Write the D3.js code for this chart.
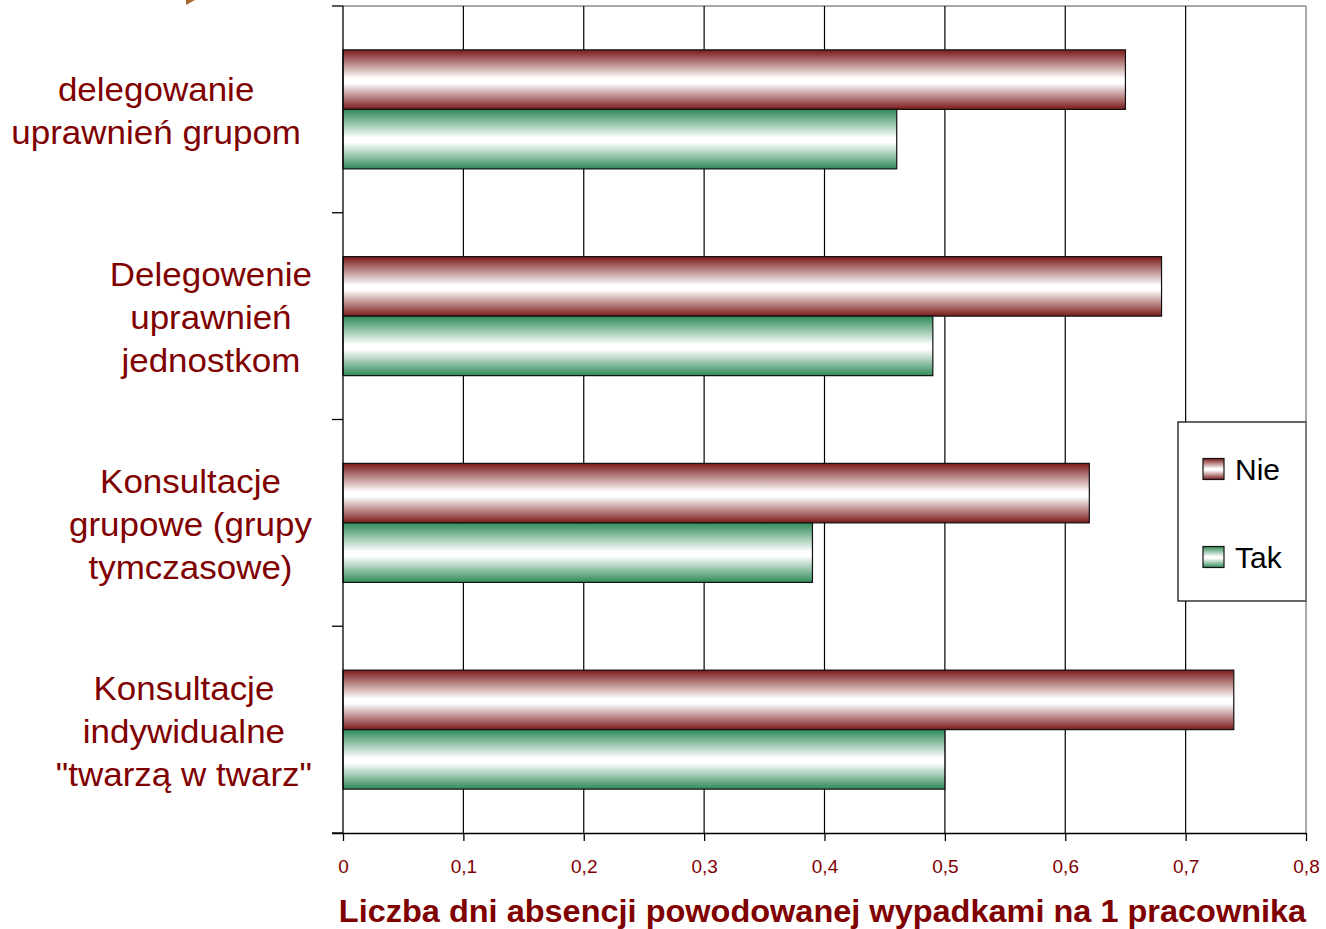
<!DOCTYPE html>
<html><head><meta charset="utf-8">
<script src="https://cdn.jsdelivr.net/npm/d3@7"></script>
<style>body{margin:0;background:#fff}svg{display:block}</style>
</head><body>
<script>
const categories = [
  ["delegowanie", "uprawnień grupom"],
  ["Delegowenie", "uprawnień", "jednostkom"],
  ["Konsultacje", "grupowe (grupy", "tymczasowe)"],
  ["Konsultacje", "indywidualne", "\"twarzą w twarz\""]
];
const seriesNames = ["Nie", "Tak"];
const nieValues = [0.65, 0.68, 0.62, 0.74];
const takValues = [0.46, 0.49, 0.39, 0.50];
const xTicks = [0, 0.1, 0.2, 0.3, 0.4, 0.5, 0.6, 0.7, 0.8];
const xTickLabels = ["0", "0,1", "0,2", "0,3", "0,4", "0,5", "0,6", "0,7", "0,8"];
const axisTitle = "Liczba dni absencji powodowanej wypadkami na 1 pracownika";

const W = 1326, H = 929;
const L = 343, R = 1306, T = 6, B = 833;
const labelColor = "#800000";
const font = "Liberation Sans, Arial, sans-serif";

const svg = d3.select("body").append("svg").attr("width", W).attr("height", H);
const defs = svg.append("defs");
function grad(id, c) {
  const g = defs.append("linearGradient").attr("id", id).attr("x1", 0).attr("y1", 0).attr("x2", 0).attr("y2", 1);
  [[0, c], [0.48, "#ffffff"], [0.56, "#ffffff"], [1, c]].forEach(s =>
    g.append("stop").attr("offset", s[0]).attr("stop-color", s[1]));
}
grad("gNie", "#7a1a1a");
grad("gTak", "#2f8a58");

// decoration
svg.append("path").attr("d", "M186,0 L195,0 L186,5 Z").attr("fill", "#a8682e");

const x = d3.scaleLinear().domain([0, 0.8]).range([L, R]);
const y = d3.scaleBand().domain(d3.range(categories.length)).range([T, B]).paddingInner(0).paddingOuter(0);
const ySub = d3.scaleBand().domain(seriesNames).range([0, y.bandwidth()]).paddingInner(0).paddingOuter(0.737);

// plot border (top/right gray)
svg.append("line").attr("x1", L).attr("x2", R).attr("y1", T).attr("y2", T).attr("stroke", "#8c8c8c").attr("stroke-width", 1.5);
svg.append("line").attr("x1", R).attr("x2", R).attr("y1", T).attr("y2", B).attr("stroke", "#8c8c8c").attr("stroke-width", 1.5);

// gridlines
svg.append("g").selectAll("line").data(xTicks.slice(1, -1)).join("line")
  .attr("x1", d => x(d)).attr("x2", d => x(d)).attr("y1", T).attr("y2", B)
  .attr("stroke", "#000").attr("stroke-width", 1.2);

// bars
const data = [];
categories.forEach((c, i) => {
  data.push({i, s: "Nie", v: nieValues[i]});
  data.push({i, s: "Tak", v: takValues[i]});
});
svg.append("g").selectAll("rect").data(data).join("rect")
  .attr("x", x(0))
  .attr("y", d => y(d.i) + ySub(d.s))
  .attr("width", d => x(d.v) - x(0))
  .attr("height", ySub.bandwidth())
  .attr("fill", d => d.s === "Nie" ? "url(#gNie)" : "url(#gTak)")
  .attr("stroke", "#111").attr("stroke-width", 1.2);

// x axis
const xAxis = d3.axisBottom(x).tickValues(xTicks).tickSize(8).tickFormat((d, i) => xTickLabels[i]);
const gx = svg.append("g").attr("transform", `translate(0,${B})`).call(xAxis);
gx.select(".domain").attr("d", `M${L - 11},0.5H${R}`).attr("stroke", "#000").attr("stroke-width", 1.3);
gx.selectAll(".tick line").attr("stroke", "#000").attr("stroke-width", 1.3);
gx.selectAll(".tick text").attr("fill", labelColor).attr("font-family", font).attr("font-size", 19).attr("dy", "1.5em");

// y axis
const yBounds = d3.range(categories.length + 1).map(i => i < categories.length ? y(i) : B);
svg.append("line").attr("x1", L).attr("x2", L).attr("y1", T).attr("y2", B).attr("stroke", "#000").attr("stroke-width", 1.3);
svg.append("g").selectAll("line").data(yBounds).join("line")
  .attr("x1", L - 11).attr("x2", L).attr("y1", d => d).attr("y2", d => d)
  .attr("stroke", "#000").attr("stroke-width", 1.3);

// category labels
const lineGap = 43, catSize = 33, sx = 1.06;
categories.forEach((lines, i) => {
  const rightEdge = i === 0 ? 301 : 312;
  const cy = y(i) + y.bandwidth() / 2;
  const g = svg.append("g");
  const texts = lines.map((t, k) => g.append("text").text(t)
    .attr("font-family", font).attr("font-size", catSize).attr("fill", labelColor)
    .attr("text-anchor", "middle"));
  const maxW = d3.max(texts, t => t.node().getComputedTextLength()) * sx;
  const cx = rightEdge - maxW / 2;
  texts.forEach((t, k) => {
    const ly = cy + (k - (lines.length - 1) / 2) * lineGap + 13;
    t.attr("transform", `translate(${cx},${ly}) scale(${sx},1)`);
  });
});

// axis title
svg.append("text").text(axisTitle)
  .attr("transform", `translate(${(L + R) / 2 - 2},${922}) scale(1.065,1)`)
  .attr("text-anchor", "middle").attr("font-family", font).attr("font-weight", "bold")
  .attr("font-size", 30.5).attr("fill", labelColor);

// legend
const lg = svg.append("g");
lg.append("rect").attr("x", 1178).attr("y", 422).attr("width", R - 1178).attr("height", 179)
  .attr("fill", "#fff").attr("stroke", "#000").attr("stroke-width", 1.2);
const legY = d3.scalePoint().domain(seriesNames).range([469, 557]);
seriesNames.forEach(s => {
  lg.append("rect").attr("x", 1203).attr("y", legY(s) - 10.5).attr("width", 21).attr("height", 21)
    .attr("fill", s === "Nie" ? "url(#gNie)" : "url(#gTak)").attr("stroke", "#111").attr("stroke-width", 1.2);
  lg.append("text").text(s).attr("x", 1235).attr("y", legY(s) + 11)
    .attr("font-family", font).attr("font-size", 30).attr("fill", "#000");
});
// restore right border over legend
svg.append("line").attr("x1", R).attr("x2", R).attr("y1", 422).attr("y2", 601).attr("stroke", "#8c8c8c").attr("stroke-width", 1.5);
</script>
</body></html>
